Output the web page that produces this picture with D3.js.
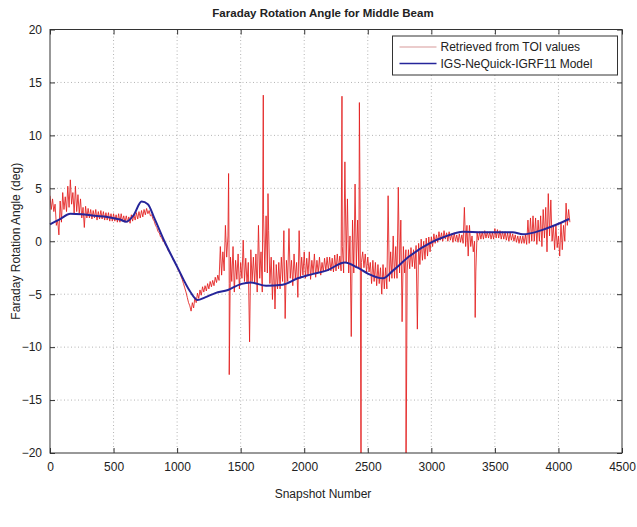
<!DOCTYPE html>
<html>
<head>
<meta charset="utf-8">
<script src="https://cdn.jsdelivr.net/npm/d3@7"></script>
<style>
  body { margin: 0; background: #fff; }
  svg { font-family: "Liberation Sans", Arial, sans-serif; }
  .grid line { stroke: #b4b4b4; stroke-dasharray: 1,2.5; }
</style>
</head>
<body>
<svg width="637" height="527"></svg>
<script>
// retrieved from TOI values: upper / lower edge of the noisy band, one bin per 20 snapshots
const redStart = 0, redStep = 20;
const redHigh = [
  4.3, 4.0, 3.5, 2.0, 3.8, 4.6, 4.2, 5.2, 5.8, 4.6,
  5.2, 4.4, 4.0, 3.2, 3.3, 3.1, 3.0, 2.9, 3.0, 2.8,
  2.9, 2.8, 2.7, 2.7, 2.6, 2.6, 2.5, 2.6, 2.6, 2.4,
  2.4, 2.3, 2.5, 2.5, 2.7, 2.8, 2.9, 3.0, 3.1, 2.9,
  2.5, 1.9, 1.3, 0.8, 0.3, -0.1, -0.5, -1.0, -1.4, -1.9,
  -2.4, -2.9, -3.6, -4.4, -5.3, -6.1, -5.8, -5.3, -4.9, -4.6,
  -4.3, -4.2, -4.0, -3.8, -3.7, -3.4, -3.2, -0.5, -1.0, 1.5,
  0.5, -1.5, -0.5, -1.8, -1.2, -2.0, 0.1, -1.6, -2.0, -0.8,
  -1.5, -1.2, 1.5, -1.0, 2.5, 2.4, 1.0, -1.5, -1.8, -2.2,
  -2.0, -1.5, 1.0, -1.8, 1.2, -1.8, -1.2, -2.0, 1.0, -1.5,
  -1.0, -1.6, -1.0, -1.8, -1.2, -1.8, -1.5, -2.0, -1.6, -1.5,
  -1.5, -1.6, -1.3, -1.2, -1.4, -0.5, 7.5, 4.0, 0.5, 2.0,
  5.4, 2.0, 3.0, -1.0, -1.2, -1.5, -2.0, -1.8, -2.0, -2.2,
  -2.5, -2.2, -2.5, 4.3, -1.0, 0.5, -0.5, 5.1, 2.0, -0.5,
  -0.8, -0.8, -0.6, -0.8, -0.4, -0.2, 0.2, 0.0, 0.3, 0.4,
  0.4, 0.7, 0.6, 0.9, 0.8, 1.0, 0.8, 0.9, 0.7, 0.8,
  0.6, 0.7, 0.6, 3.2, 1.5, 1.5, 0.5, 0.0, 0.8, 0.9,
  0.9, 1.0, 0.9, 0.9, 0.8, 1.2, 1.1, 1.0, 0.9, 0.9,
  0.8, 0.8, 0.7, 0.6, 0.5, 0.5, 0.5, 0.6, 2.0, 2.2,
  2.4, 2.2, 2.0, 2.4, 3.0, 3.2, 4.5, 3.9, 1.5, 1.5,
  0.5, 1.8, 1.5, 3.6, 3.0
];
const redLow = [
  3.0, 2.8, 1.5, 0.6, 1.8, 3.0, 2.8, 3.2, 3.5, 2.6,
  2.8, 2.6, 2.2, 1.3, 2.2, 2.2, 2.1, 2.2, 2.0, 2.1,
  2.1, 2.0, 2.0, 1.9, 1.9, 1.9, 1.8, 1.8, 1.9, 1.8,
  1.8, 1.7, 1.9, 2.0, 2.1, 2.2, 2.3, 2.5, 2.6, 2.4,
  2.1, 1.5, 0.9, 0.4, 0.0, -0.4, -0.9, -1.3, -1.8, -2.2,
  -2.8, -3.3, -4.0, -4.8, -5.8, -6.6, -6.3, -5.8, -5.4, -5.1,
  -4.8, -4.7, -4.5, -4.3, -4.2, -3.9, -3.7, -3.2, -2.8, -1.5,
  -4.0, -3.8, -4.8, -3.6, -4.5, -3.5, -3.8, -4.0, -9.5, -3.8,
  -4.0, -4.8, -3.5, -4.8, -2.9, -3.0, -4.0, -5.5, -6.4, -4.5,
  -4.5, -3.8, -7.3, -3.8, -3.5, -4.2, -3.5, -5.3, -3.5, -3.2,
  -3.5, -3.2, -3.6, -3.0, -3.4, -3.0, -3.2, -2.9, -2.8, -2.8,
  -2.8, -2.9, -2.8, -2.6, -2.8, -3.0, -2.0, -3.0, -9.0, -3.0,
  -2.5, -2.5, -2.0, -2.5, -2.9, -2.9, -4.0, -3.8, -4.2, -4.0,
  -5.0, -4.5, -4.5, -3.8, -3.5, -3.5, -3.5, -3.0, -7.6, -3.0,
  -2.8, -2.6, -2.4, -2.6, -8.3, -2.2, -1.8, -1.7, -1.4, -1.0,
  -0.5, -0.2, -0.1, 0.1, 0.0, 0.2, 0.0, 0.1, -0.1, 0.0,
  -0.1, -0.1, -0.2, -0.5, -1.4, -0.5, -1.0, -2.9, 0.1, 0.2,
  0.2, 0.3, 0.3, 0.2, 0.2, 0.3, 0.3, 0.2, 0.2, 0.1,
  0.0, 0.1, 0.0, -0.1, -0.2, -0.2, -0.2, -0.3, -0.2, 0.0,
  0.0, -0.3, 0.0, -0.5, 0.3, -1.0, 0.5, 0.0, -0.8, -0.6,
  -1.4, -0.8, 0.0, 1.5, 1.8
];
// isolated spikes between the regular samples: [snapshot, deg]
const redSpikes = [
  [1405, 6.4], [1410, -12.6], [1678, 13.8], [1715, 4.5],
  [2297, 13.7], [2434, 13.1], [2447, -25], [2800, -25], [3345, -7.2]
];

// IGS-NeQuick-IGRF11 model
const modelSnapshots = [0, 80, 160, 250, 350, 450, 550, 600, 660, 720, 770, 820, 900,
  1000, 1100, 1160, 1220, 1300, 1400, 1500, 1580, 1700, 1830, 1950, 2050, 2180, 2320,
  2420, 2500, 2620, 2700, 2830, 3000, 3100, 3250, 3400, 3640, 3720, 3880, 4010, 4085];
const modelValues = [1.6, 2.1, 2.6, 2.55, 2.4, 2.3, 2.05, 1.85, 2.5, 3.75, 3.5, 2.2, 0,
  -2.4, -4.7, -5.55, -5.3, -4.9, -4.6, -4.05, -3.9, -4.2, -4.1, -3.5, -3.15, -2.75, -2.0,
  -2.5, -3.05, -3.5, -2.75, -1.4, -0.1, 0.4, 0.9, 0.85, 0.85, 0.65, 1.1, 1.7, 2.1];

const xTicks = [0, 500, 1000, 1500, 2000, 2500, 3000, 3500, 4000, 4500];
const yTicks = [-20, -15, -10, -5, 0, 5, 10, 15, 20];
const legendLabels = ['Retrieved from TOI values', 'IGS-NeQuick-IGRF11 Model'];

const svg = d3.select('svg');
const margin = {top: 29.5, right: 15, bottom: 74, left: 50};
const width = 637 - margin.left - margin.right;
const height = 527 - margin.top - margin.bottom;

const x = d3.scaleLinear().domain([0, 4500]).range([0, width]);
const y = d3.scaleLinear().domain([-20, 20]).range([height, 0]);

const g = svg.append('g').attr('transform', `translate(${margin.left},${margin.top})`);

g.append('clipPath').attr('id', 'clip')
  .append('rect').attr('width', width).attr('height', height);

// grid
g.append('g').attr('class', 'grid')
  .selectAll('line').data(xTicks.slice(1, -1)).enter().append('line')
  .attr('x1', d => x(d)).attr('x2', d => x(d)).attr('y1', 0).attr('y2', height);
g.append('g').attr('class', 'grid')
  .selectAll('line').data(yTicks.slice(1, -1)).enter().append('line')
  .attr('y1', d => y(d)).attr('y2', d => y(d)).attr('x1', 0).attr('x2', width);

// red series: walk the band top, bottom, top ... then slot the spikes in
const red = [];
redHigh.forEach((hi, i) => {
  const s = redStart + i * redStep;
  red.push([s, hi], [s + redStep / 2, redLow[i]]);
});
redSpikes.forEach(p => red.push(p));
red.sort((a, b) => a[0] - b[0]);

const redLine = d3.line().x(d => x(d[0])).y(d => y(d[1]));
g.append('path')
  .attr('clip-path', 'url(#clip)')
  .attr('d', redLine(red))
  .attr('fill', 'none')
  .attr('stroke', '#e31c1c')
  .attr('stroke-width', 0.85)
  .attr('stroke-linejoin', 'round');

const model = modelSnapshots.map((s, i) => [s, modelValues[i]]);
const modelLine = d3.line().x(d => x(d[0])).y(d => y(d[1])).curve(d3.curveMonotoneX);
g.append('path')
  .attr('d', modelLine(model))
  .attr('fill', 'none')
  .attr('stroke', '#25259a')
  .attr('stroke-width', 2);

// axes, matlab style: box with inward ticks
const tickStyle = sel => {
  sel.select('.domain').remove();
  sel.selectAll('.tick line').attr('stroke', '#333');
  sel.selectAll('.tick text').attr('fill', '#222').style('font-size', '12px');
};
const fmt = d3.format('d');
g.append('g').attr('transform', `translate(0,${height})`)
  .call(d3.axisBottom(x).tickValues(xTicks).tickFormat(fmt).tickSizeInner(-5).tickSizeOuter(0).tickPadding(9))
  .call(tickStyle);
g.append('g')
  .call(d3.axisTop(x).tickValues(xTicks).tickSizeInner(-5).tickSizeOuter(0).tickFormat(''))
  .call(tickStyle);
g.append('g')
  .call(d3.axisLeft(y).tickValues(yTicks).tickFormat(fmt).tickSizeInner(-5).tickSizeOuter(0).tickPadding(8))
  .call(tickStyle);
g.append('g').attr('transform', `translate(${width},0)`)
  .call(d3.axisRight(y).tickValues(yTicks).tickSizeInner(-5).tickSizeOuter(0).tickFormat(''))
  .call(tickStyle);

g.append('rect')
  .attr('width', width).attr('height', height)
  .attr('fill', 'none').attr('stroke', '#333').attr('stroke-width', 1);

// legend
const lg = g.append('g').attr('transform', `translate(${392.5 - margin.left},${36 - margin.top})`);
lg.append('rect').attr('width', 225).attr('height', 39)
  .attr('fill', '#fff').attr('stroke', '#333');
const colors = ['#d89a9a', '#25259a'];
legendLabels.forEach((t, i) => {
  const cy = 11 + i * 16.5;
  lg.append('line').attr('x1', 7).attr('x2', 44).attr('y1', cy).attr('y2', cy)
    .attr('stroke', colors[i]).attr('stroke-width', i ? 1.5 : 1.2);
  lg.append('text').attr('x', 48).attr('y', cy).attr('dy', '0.35em')
    .style('font-size', '12px').attr('fill', '#222').text(t);
});

// titles
svg.append('text')
  .attr('x', 323).attr('y', 17)
  .attr('text-anchor', 'middle')
  .style('font-size', '11.5px').style('font-weight', 'bold')
  .attr('fill', '#222')
  .text('Faraday Rotation Angle for Middle Beam');
svg.append('text')
  .attr('x', 323).attr('y', 498)
  .attr('text-anchor', 'middle')
  .style('font-size', '12px').attr('fill', '#222')
  .text('Snapshot Number');
svg.append('text')
  .attr('transform', `translate(20,${margin.top + height / 2}) rotate(-90)`)
  .attr('text-anchor', 'middle')
  .style('font-size', '12px').attr('fill', '#222')
  .text('Faraday Rotation Angle (deg)');
</script>
</body>
</html>
